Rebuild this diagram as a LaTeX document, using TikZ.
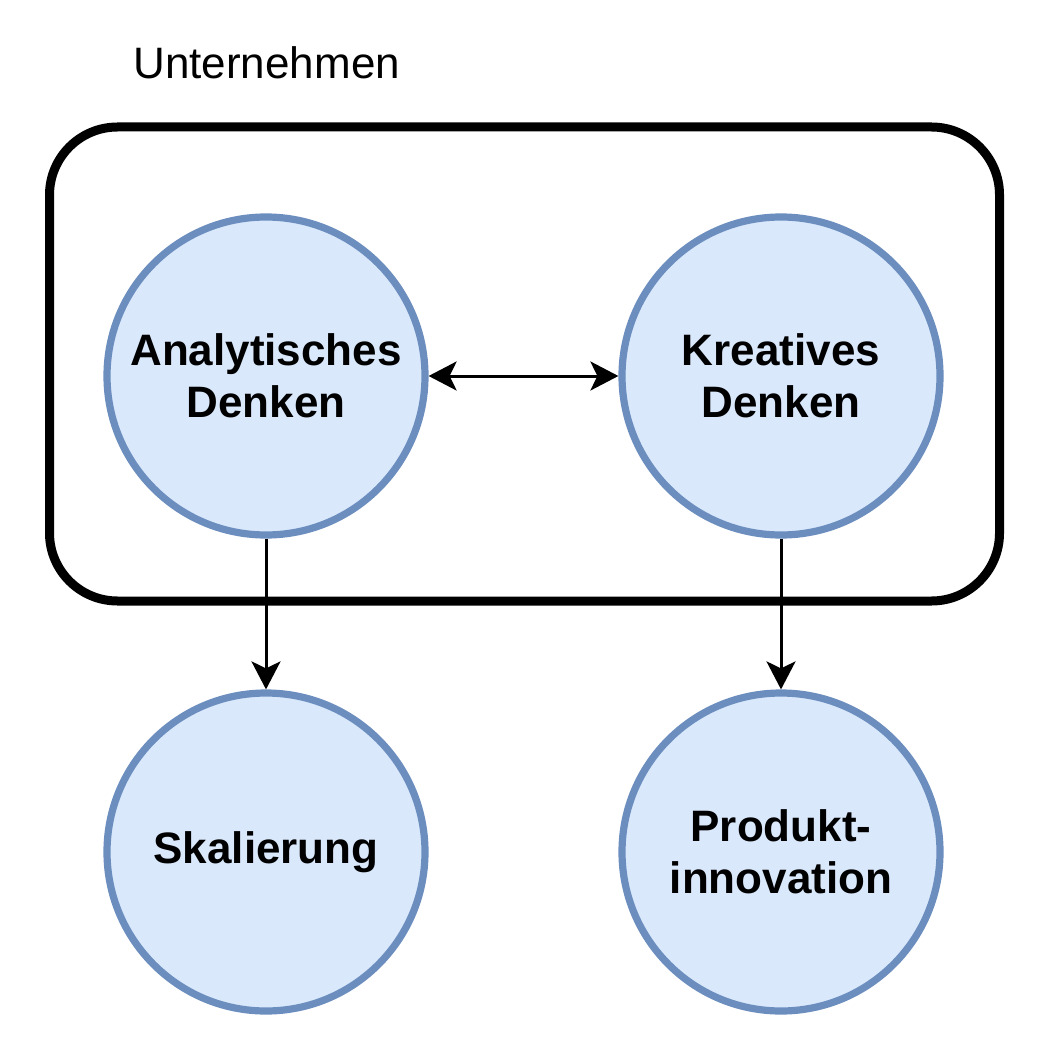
\documentclass[tikz,border=0pt]{standalone}
\usepackage{fontspec}
\setmainfont{Liberation Sans}
\usetikzlibrary{arrows.meta}
\definecolor{cfill}{HTML}{DAE8FC}
\definecolor{cdraw}{HTML}{6C8EBF}
\begin{document}
\begin{tikzpicture}[x=0.5pt,y=-0.5pt,
  bubble/.style={circle,draw=cdraw,fill=cfill,line width=3.6pt,minimum size=159pt,inner sep=0pt,
    align=center,font=\fontsize{22pt}{26pt}\selectfont\bfseries},
  conn/.style={line width=1.5pt,-{Stealth[length=14pt,width=14.5pt,inset=3.5pt]}},
  biconn/.style={line width=1.5pt,{Stealth[length=14pt,width=14.5pt,inset=3.5pt]}-{Stealth[length=14pt,width=14.5pt,inset=3.5pt]}},
  frame/.style={draw=black,line width=4.5pt,rounded corners=34pt}]
\useasboundingbox (0,0) rectangle (1052,1042);
\draw[frame] (49.5,127) rectangle (999.5,601);
\node[anchor=base west,font=\fontsize{22pt}{26pt}\selectfont,inner sep=0pt] (title) at (133,79) {Unternehmen};
\node[bubble] (ana) at (266,376) {Analytisches\\Denken};
\node[bubble] (kre) at (781,376) {Kreatives\\Denken};
\node[bubble] (ska) at (266,852) {Skalierung};
\node[bubble] (pro) at (781,852) {Produkt-\\innovation};
\draw[biconn] (ana) -- (kre);
\draw[conn] (ana) -- (ska);
\draw[conn] (kre) -- (pro);
\end{tikzpicture}
\end{document}
